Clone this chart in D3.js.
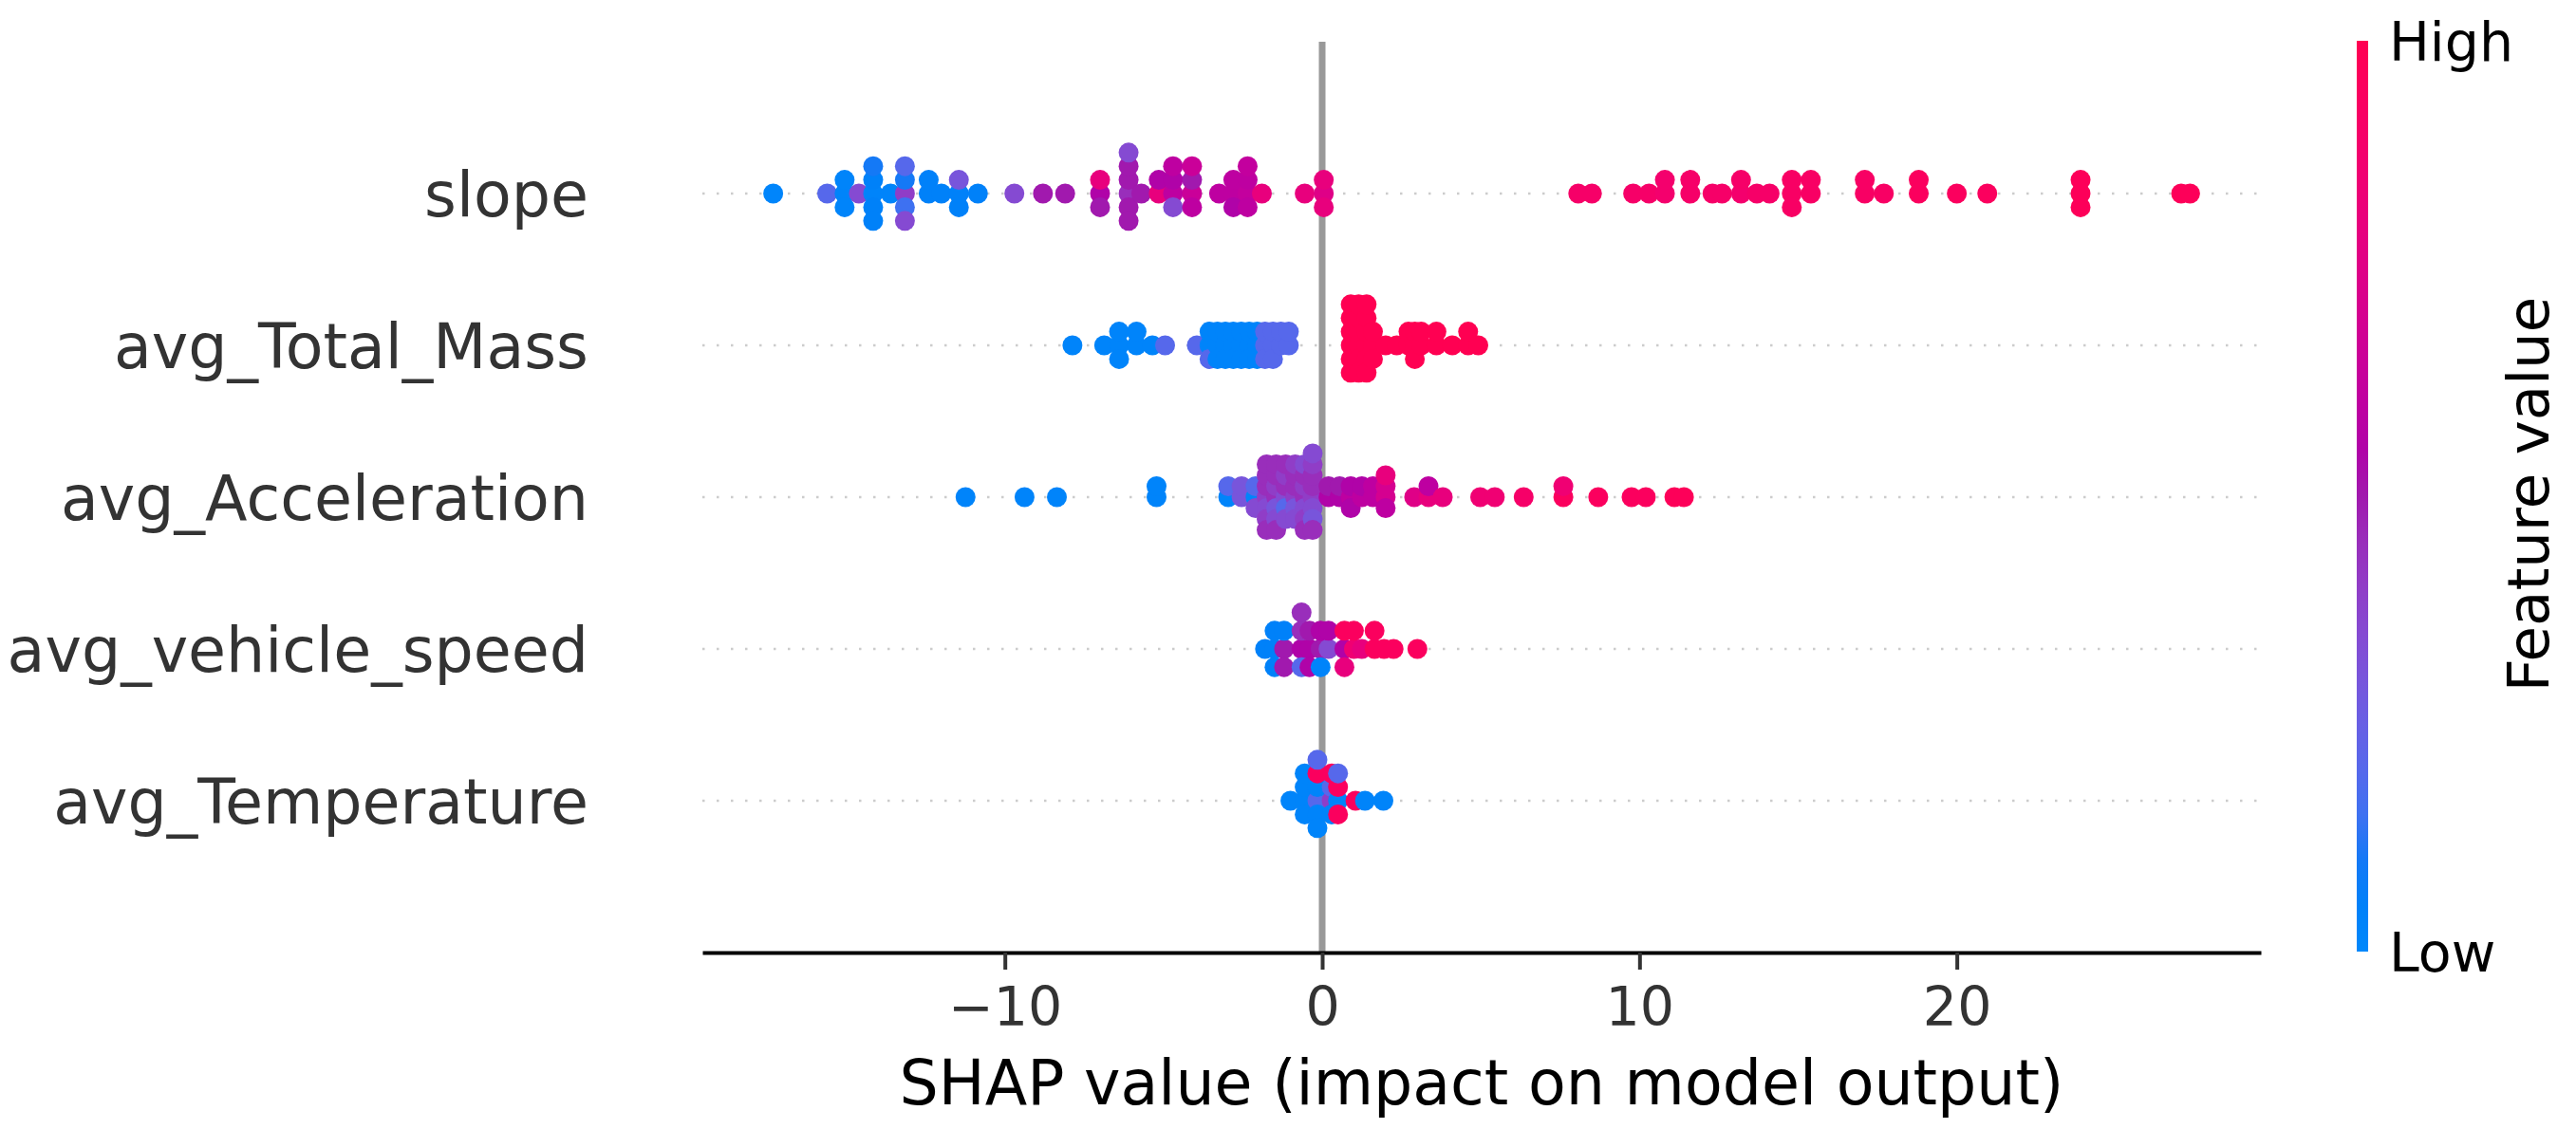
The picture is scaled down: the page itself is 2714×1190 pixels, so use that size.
<!DOCTYPE html>
<html>
<head>
<meta charset="utf-8">
<script src="https://cdn.jsdelivr.net/npm/d3@7"></script>
<style>
  body { margin: 0; background: #fff; }
  text { font-family: "DejaVu Sans", sans-serif; }
</style>
</head>
<body>
<div id="chart"></div>
<script>
// Data
// features from top to bottom
let features = ["slope", "avg_Total_Mass", "avg_Acceleration", "avg_vehicle_speed", "avg_Temperature"];

// shap values; repeated values are points stacked in one column
let slopeShap = [
  -17.3, -15.6, -15.05, -15.05, -15.05, -14.6,
  -14.15, -14.15, -14.15, -14.15, -14.15, -13.6,
  -13.15, -13.15, -13.15, -13.15, -13.15, -12.4, -12.4, -12.0,
  -11.45, -11.45, -11.45, -10.85, -9.7, -8.8, -8.1,
  -7.0, -7.0, -7.0, -6.1, -6.1, -6.1, -6.1, -6.1, -6.1, -5.7,
  -5.15, -5.15, -4.7, -4.7, -4.7, -4.7, -4.1, -4.1, -4.1, -4.1,
  -3.25, -2.8, -2.8, -2.8, -2.35, -2.35, -2.35, -2.35, -1.9, -0.55,
  0.05, 0.05, 0.05,
  8.07, 8.5, 9.8, 10.3, 10.8, 10.8, 11.6, 11.6, 12.3, 12.6, 13.2, 13.2,
  13.7, 14.1, 14.8, 14.8, 14.8, 15.4, 15.4, 17.1, 17.1, 17.7, 18.8, 18.8,
  20.0, 20.96, 23.9, 23.9, 23.9, 27.07, 27.35
];
// feature values (0 = low, 1 = high)
let slopeFeat = [
  0.02, 0.2, 0.03, 0.03, 0.03, 0.35,
  0.03, 0.05, 0.05, 0.1, 0.05, 0.03,
  0.4, 0.1, 0.15, 0.2, 0.35, 0.05, 0.05, 0.05,
  0.05, 0.3, 0.05, 0.05, 0.35, 0.5, 0.5,
  0.55, 0.8, 0.5, 0.45, 0.5, 0.5, 0.5, 0.5, 0.35, 0.5,
  0.8, 0.55, 0.6, 0.55, 0.35, 0.6, 0.65, 0.5, 0.6, 0.65,
  0.6, 0.6, 0.6, 0.55, 0.62, 0.6, 0.6, 0.62, 0.8, 0.8,
  0.75, 0.8, 0.8,
  0.9, 0.9, 0.9, 0.9, 0.88, 0.88, 0.9, 0.9, 0.9, 0.9, 0.88, 0.9,
  0.9, 0.9, 0.92, 0.92, 0.92, 0.92, 0.92, 0.92, 0.92, 0.92, 0.95, 0.95,
  0.95, 0.95, 0.97, 0.97, 0.97, 0.97, 0.97
];

let massShap = [
  -7.87, -6.87, -6.4, -6.4, -6.4, -5.85, -5.85, -5.35, -4.95, -3.95,
  -3.55, -3.55, -3.55, -3.3, -3.3, -3.3, -3.05, -3.05, -3.05,
  -2.8, -2.8, -2.8, -2.55, -2.55, -2.55, -2.3, -2.3, -2.3,
  -2.05, -2.05, -2.05, -1.8, -1.8, -1.8, -1.55, -1.55, -1.55,
  -1.3, -1.3, -1.05, -1.05,
  0.9, 0.9, 0.9, 0.9, 0.9, 0.9, 1.15, 1.15, 1.15, 1.15, 1.15, 1.15,
  1.4, 1.4, 1.4, 1.4, 1.4, 1.4, 1.6, 1.6, 1.6, 2.0, 2.35,
  2.72, 2.72, 2.92, 2.92, 2.92, 3.12, 3.12, 3.6, 3.6, 4.1, 4.6, 4.6, 4.92
];
let massFeat = [
  0.03, 0.03, 0.03, 0.03, 0.03, 0.03, 0.03, 0.03, 0.2, 0.2,
  0.03, 0.03, 0.2, 0.03, 0.03, 0.03, 0.03, 0.03, 0.03,
  0.03, 0.03, 0.03, 0.03, 0.03, 0.03, 0.03, 0.03, 0.03,
  0.03, 0.03, 0.03, 0.2, 0.2, 0.2, 0.2, 0.2, 0.2,
  0.2, 0.2, 0.2, 0.2,
  1, 1, 1, 1, 1, 1, 1, 1, 1, 1, 1, 1,
  1, 1, 1, 1, 1, 1, 1, 1, 1, 1, 1,
  1, 1, 1, 1, 1, 1, 1, 1, 1, 1, 1, 1, 1
];

let accelShap = [
  -11.24, -9.38, -8.36, -5.22, -5.22, -2.96, -2.96, -2.54, -2.54, -2.1, -2.1, -2.1,
  -1.75, -1.75, -1.75, -1.75, -1.75, -1.75, -1.75,
  -1.45, -1.45, -1.45, -1.45, -1.45, -1.45, -1.45,
  -1.15, -1.15, -1.15, -1.15, -1.15, -1.15,
  -0.85, -0.85, -0.85, -0.85, -0.85, -0.85,
  -0.55, -0.55, -0.55, -0.55, -0.55, -0.55, -0.55,
  -0.3, -0.3, -0.3, -0.3, -0.3, -0.3, -0.3, -0.3,
  0.2, 0.2, 0.55, 0.55, 0.9, 0.9, 0.9, 1.25, 1.25, 1.6, 1.6,
  2.0, 2.0, 2.0, 2.0, 2.9, 3.35, 3.35, 3.8,
  4.98, 5.44, 6.35, 7.6, 7.6, 8.7, 9.75, 10.2, 11.1, 11.4
];
let accelFeat = [
  0.03, 0.03, 0.03, 0.03, 0.03, 0.03, 0.2, 0.3, 0.3, 0.03, 0.2, 0.35,
  0.4, 0.45, 0.35, 0.45, 0.4, 0.45, 0.45,
  0.45, 0.4, 0.3, 0.45, 0.35, 0.45, 0.45,
  0.35, 0.45, 0.2, 0.4, 0.35, 0.45,
  0.4, 0.45, 0.3, 0.45, 0.35, 0.4,
  0.45, 0.4, 0.35, 0.45, 0.4, 0.35, 0.45,
  0.4, 0.45, 0.35, 0.45, 0.3, 0.4, 0.45, 0.35,
  0.55, 0.5, 0.55, 0.5, 0.6, 0.55, 0.55, 0.6, 0.55, 0.6, 0.6,
  0.7, 0.7, 0.6, 0.8, 0.75, 0.8, 0.6, 0.8,
  0.85, 0.85, 0.9, 0.95, 0.85, 0.95, 0.95, 0.95, 0.97, 0.97
];

let speedShap = [
  -1.8, -1.5, -1.5, -1.5, -1.2, -1.2, -1.2, -0.65, -0.65, -0.65, -0.65,
  -0.4, -0.4, -0.4, -0.05, -0.05, -0.05, 0.2, 0.2,
  0.7, 0.7, 0.7, 1.0, 1.0, 1.25, 1.65, 1.65, 1.95, 2.25, 3.0
];
let speedFeat = [
  0.05, 0.05, 0.05, 0.05, 0.5, 0.05, 0.5, 0.55, 0.45, 0.2, 0.45,
  0.55, 0.5, 0.55, 0.5, 0.55, 0.03, 0.35, 0.55,
  0.55, 0.95, 0.8, 0.85, 0.95, 0.8, 0.95, 0.95, 0.95, 0.95, 0.95
];

let tempShap = [
  -1.0, -0.55, -0.55, -0.55, -0.55,
  -0.15, -0.15, -0.15, -0.15, -0.15, -0.15,
  0.3, 0.3, 0.3, 0.3, 0.5, 0.5, 0.5, 0.5, 1.05, 1.35, 1.93
];
let tempFeat = [
  0.03, 0.03, 0.03, 0.03, 0.03,
  0.2, 0.03, 0.03, 0.95, 0.03, 0.2,
  0.4, 0.2, 0.03, 0.95, 0.03, 0.95, 0.95, 0.2, 0.95, 0.03, 0.03
];

let xTicks = [-10, 0, 10, 20];

let rows = [
  { name: features[0], shap: slopeShap, feat: slopeFeat },
  { name: features[1], shap: massShap, feat: massFeat },
  { name: features[2], shap: accelShap, feat: accelFeat },
  { name: features[3], shap: speedShap, feat: speedFeat },
  { name: features[4], shap: tempShap, feat: tempFeat }
];

// Set up SVG
let svgWidth = 2714;
let svgHeight = 1190;
let plot = { left: 740, right: 2382, top: 44, bottom: 1004 };

let svg = d3.select("#chart")
  .append("svg")
  .attr("width", svgWidth)
  .attr("height", svgHeight);

// shap red_blue colormap (LCH blend, darker in the middle)
function redBlue(t) {
  let l = t < 0.5 ? 54 - 28 * t : 40 + 28 * (t - 0.5);
  let c = 70 + 20 * t;
  let h = 266.93 + 113.39 * t;
  return d3.hcl(h, c, l).formatHex();
}

// Scales
let allShap = d3.merge(rows.map(r => r.shap));
let [lo, hi] = d3.extent(allShap);
let pad = (hi - lo) * 0.05;
let x = d3.scaleLinear()
  .domain([lo - pad, hi + pad])
  .range([plot.left, plot.right]);
// row position counted from the bottom, like matplotlib
let y = d3.scaleLinear()
  .domain([-1, features.length])
  .range([plot.bottom, plot.top]);
let rowPos = i => features.length - 1 - i;

// beeswarm: points with the same value stack 0, +1, -1, +2, -2 ...
function swarm(values) {
  let seen = new Map();
  let ys = values.map(v => {
    let layer = seen.get(v) || 0;
    seen.set(v, layer + 1);
    return Math.ceil(layer / 2) * ((layer % 2) * 2 - 1);
  });
  let k = 0.9 * (0.4 / (d3.max(ys) + 1));
  return ys.map(d => d * k);
}

// zero line
svg.append("line")
  .attr("x1", x(0)).attr("x2", x(0))
  .attr("y1", plot.top).attr("y2", plot.bottom)
  .attr("stroke", "#999999")
  .attr("stroke-width", 7);

// dotted row guides
svg.selectAll(".guide")
  .data(rows)
  .enter()
  .append("line")
  .attr("class", "guide")
  .attr("x1", plot.left).attr("x2", plot.right)
  .attr("y1", (d, i) => y(rowPos(i)))
  .attr("y2", (d, i) => y(rowPos(i)))
  .attr("stroke", "#cccccc")
  .attr("stroke-width", 2.5)
  .attr("stroke-dasharray", "2.5 12.5");

// points
rows.forEach((row, i) => {
  let offs = swarm(row.shap);
  let pts = row.shap.map((v, j) => ({ v: v, f: row.feat[j], o: offs[j] }));
  svg.append("g")
    .selectAll("circle")
    .data(pts)
    .enter()
    .append("circle")
    .attr("cx", d => x(d.v))
    .attr("cy", d => y(rowPos(i) + d.o))
    .attr("r", 10.5)
    .attr("fill", d => redBlue(d.f));
});

// row labels
svg.selectAll(".rowLabel")
  .data(features)
  .enter()
  .append("text")
  .attr("class", "rowLabel")
  .attr("x", 620)
  .attr("y", (d, i) => y(rowPos(i)) + 24)
  .attr("text-anchor", "end")
  .style("font-size", "65px")
  .style("fill", "#333333")
  .text(d => d);

// x axis
let xAxis = d3.axisBottom(x)
  .tickValues(xTicks)
  .tickSize(18)
  .tickSizeOuter(0)
  .tickPadding(19);
let axisG = svg.append("g")
  .attr("transform", `translate(0, ${plot.bottom})`)
  .call(xAxis);
axisG.select(".domain")
  .attr("stroke", "#000")
  .attr("stroke-width", 4);
axisG.selectAll(".tick line")
  .attr("stroke", "#333333")
  .attr("stroke-width", 4);
axisG.selectAll(".tick text")
  .style("font-size", "57px")
  .style("font-family", "DejaVu Sans")
  .attr("fill", "#333333");

svg.append("text")
  .attr("x", (plot.left + plot.right) / 2)
  .attr("y", 1164)
  .attr("text-anchor", "middle")
  .style("font-size", "65px")
  .style("fill", "#000")
  .text("SHAP value (impact on model output)");

// colorbar
let cb = { x: 2483, w: 12, top: 43, bottom: 1003 };
let grad = svg.append("defs")
  .append("linearGradient")
  .attr("id", "cbGrad")
  .attr("x1", 0).attr("x2", 0)
  .attr("y1", 1).attr("y2", 0);
grad.selectAll("stop")
  .data(d3.range(0, 1.0001, 0.05))
  .enter()
  .append("stop")
  .attr("offset", d => d)
  .attr("stop-color", d => redBlue(d));
svg.append("rect")
  .attr("x", cb.x)
  .attr("y", cb.top)
  .attr("width", cb.w)
  .attr("height", cb.bottom - cb.top)
  .attr("fill", "url(#cbGrad)");

svg.append("text")
  .attr("x", 2517)
  .attr("y", cb.top + 21)
  .style("font-size", "57px")
  .style("fill", "#000")
  .text("High");
svg.append("text")
  .attr("x", 2517)
  .attr("y", cb.bottom + 21)
  .style("font-size", "57px")
  .style("fill", "#000")
  .text("Low");
svg.append("text")
  .attr("transform", `translate(2685, ${(cb.top + cb.bottom) / 2 - 2}) rotate(-90)`)
  .attr("text-anchor", "middle")
  .style("font-size", "61px")
  .style("fill", "#000")
  .text("Feature value");
</script>
</body>
</html>
